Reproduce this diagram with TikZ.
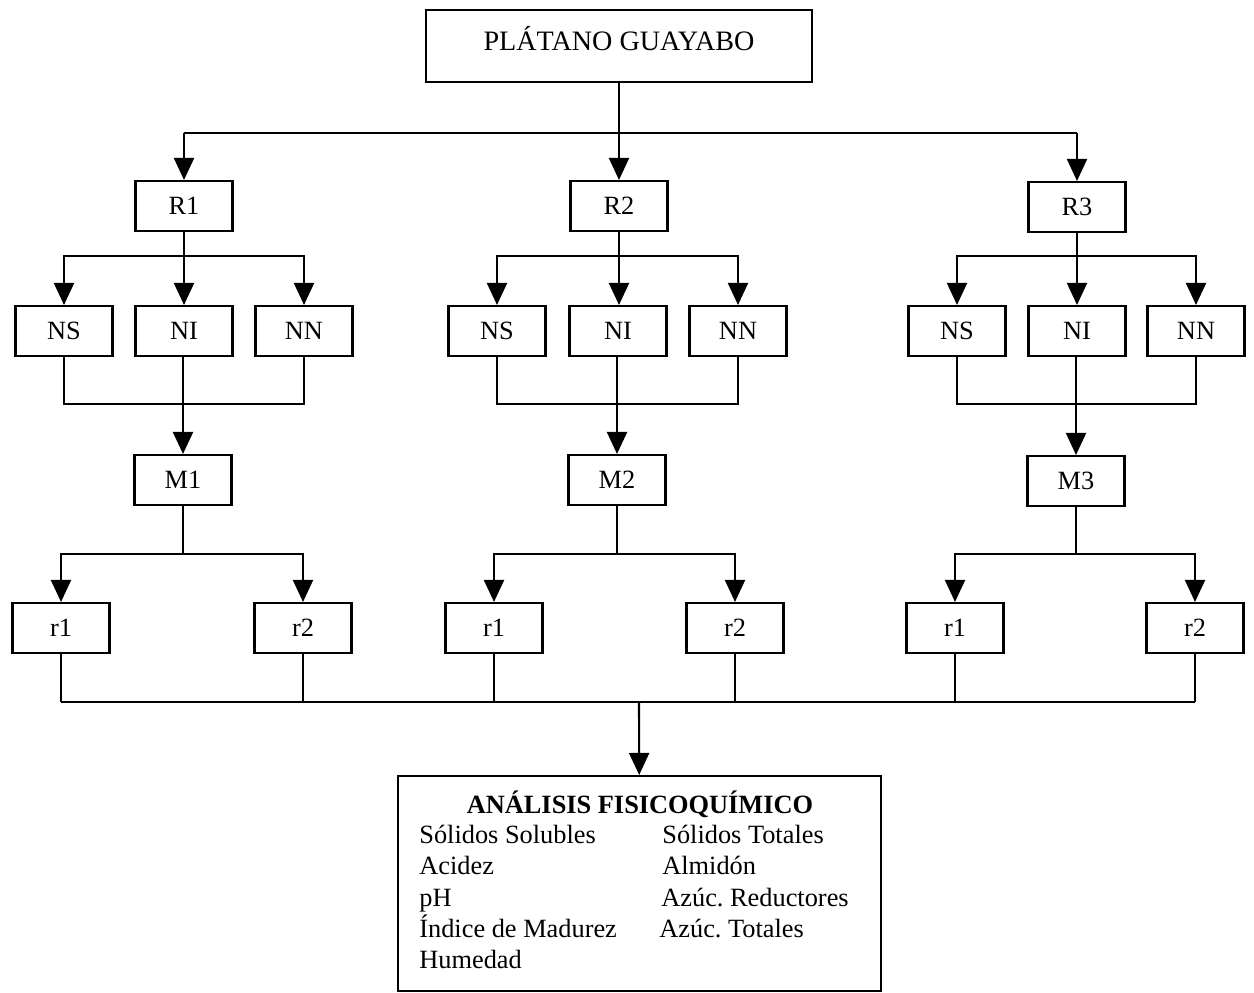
\documentclass[tikz,border=0pt]{standalone}
\usepackage{fontspec}
\setmainfont{Liberation Serif}
\usetikzlibrary{arrows.meta}
\begin{document}
\begin{tikzpicture}[x=0.02cm,y=-0.02cm,
  ln/.style={line width=1.2pt},
  arr/.style={ln,-{Triangle[width=0.4cm,length=0.44cm]}},
  bx/.style={draw,line width=1.2pt,minimum width=1.94cm,minimum height=1cm,inner sep=0pt,font=\fontsize{15}{18}\selectfont},
  txt/.style={inner sep=0pt,anchor=base west,font=\fontsize{15}{18}\selectfont}]
\useasboundingbox (0,0) rectangle (1254,993);
% top
\node[bx,minimum width=7.72cm,minimum height=1.44cm,text depth=0.3cm,font=\fontsize{16}{19}\selectfont] (top) at (619,46) {PLÁTANO GUAYABO};
\coordinate (j0) at (619,133);
% group 1
\node[bx] (R1) at (184,206) {R1};
\node[bx] (NS1) at (64,331) {NS};
\node[bx] (NI1) at (184,331) {NI};
\node[bx] (NN1) at (304,331) {NN};
\node[bx] (M1) at (183,480) {M1};
\node[bx] (ra1) at (61,628) {r1};
\node[bx] (rb1) at (303,628) {r2};
% group 2
\node[bx] (R2) at (619,206) {R2};
\node[bx] (NS2) at (497,331) {NS};
\node[bx] (NI2) at (618,331) {NI};
\node[bx] (NN2) at (738,331) {NN};
\node[bx] (M2) at (617,480) {M2};
\node[bx] (ra2) at (494,628) {r1};
\node[bx] (rb2) at (735,628) {r2};
% group 3
\node[bx] (R3) at (1077,207) {R3};
\node[bx] (NS3) at (957,331) {NS};
\node[bx] (NI3) at (1077,331) {NI};
\node[bx] (NN3) at (1196,331) {NN};
\node[bx] (M3) at (1076,481) {M3};
\node[bx] (ra3) at (955,628) {r1};
\node[bx] (rb3) at (1195,628) {r2};
% result box
\node[draw,line width=1.2pt,minimum width=9.66cm,minimum height=4.3cm,inner sep=0pt] (res) at (639.5,883.5) {};
\node[inner sep=0pt,anchor=base,font=\fontsize{15}{18}\selectfont\bfseries] (title) at (640,813) {ANÁLISIS FISICOQUÍMICO};
\node[txt] (a1) at (419,843) {Sólidos Solubles};
\node[txt] (a2) at (419,874) {Acidez};
\node[txt] (a3) at (419,906) {pH};
\node[txt] (a4) at (419,937) {Índice de Madurez};
\node[txt] (a5) at (419,968) {Humedad};
\node[txt] (b1) at (662,843) {Sólidos Totales};
\node[txt] (b2) at (662,874) {Almidón};
\node[txt] (b3) at (661,906) {Azúc.\ Reductores};
\node[txt] (b4) at (659,937) {Azúc.\ Totales};
% top connectors
\draw[ln] (top) -- (j0);
\coordinate (jL) at (184,133);
\coordinate (jR) at (1077,133);
\draw[ln] (jL) -- (jR);
\draw[arr] (jL) -- (R1);
\draw[arr] (j0) -- (R2);
\draw[arr] (jR) -- (R3);
% group connectors
\foreach \i/\c/\d in {1/184/183,2/619/617,3/1077/1076}{
  \coordinate (b\i) at (\c,256);
  \draw[arr] (R\i) -- (R\i |- NI\i.north);
  \draw[arr] (b\i) -| (NS\i);
  \draw[arr] (b\i) -| (NN\i);
  \coordinate (m\i) at (\d,404);
  \draw[ln] (NS\i) |- (m\i) -| (NN\i);
  \draw[ln] (NI\i.south -| m\i) -- (m\i);
  \draw[arr] (m\i) -- (M\i);
}
\coordinate (n1) at (183,554);
\coordinate (n2) at (617,554);
\coordinate (n3) at (1076,554);
\foreach \i in {1,2,3}{
  \draw[ln] (M\i) -- (n\i);
  \draw[arr] (n\i) -| (ra\i);
  \draw[arr] (n\i) -| (rb\i);
}
% bottom collector
\coordinate (bl) at (61,702);
\coordinate (br) at (1195,702);
\coordinate (bc) at (639,702);
\draw[ln] (bl) -- (br);
\foreach \n in {ra1,rb1,ra2,rb2,ra3,rb3}{
  \draw[ln] (\n) -- (\n |- bl);
}
\draw[arr] (bc) -- (res);
\end{tikzpicture}
\end{document}
